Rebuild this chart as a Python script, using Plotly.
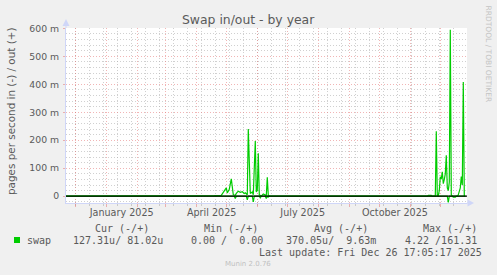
import plotly.graph_objects as go
import pandas as pd

# ---- data (values in milli-pages/s) ----
out_dates = ["2024-11-21", "2025-04-16", "2025-04-19", "2025-04-26", "2025-04-29",
             "2025-05-01", "2025-05-02", "2025-05-04", "2025-05-06", "2025-05-07",
             "2025-05-08", "2025-05-10", "2025-05-11", "2025-05-13", "2025-05-15",
             "2025-05-17", "2025-05-19", "2025-05-20", "2025-05-22", "2025-05-23",
             "2025-05-24", "2025-05-25", "2025-05-27", "2025-05-28", "2025-05-30",
             "2025-05-31", "2025-06-01", "2025-06-02", "2025-06-03", "2025-06-05",
             "2025-06-07", "2025-06-09", "2025-06-10", "2025-06-11", "2025-06-12",
             "2025-06-14", "2025-11-18", "2025-11-19", "2025-11-22", "2025-11-23",
             "2025-11-26", "2025-11-27", "2025-11-28", "2025-11-29", "2025-11-30",
             "2025-12-01", "2025-12-02", "2025-12-03", "2025-12-04", "2025-12-05",
             "2025-12-06", "2025-12-07", "2025-12-08", "2025-12-09", "2025-12-10",
             "2025-12-11", "2025-12-12", "2025-12-13", "2025-12-18", "2025-12-19",
             "2025-12-20", "2025-12-21", "2025-12-22", "2025-12-23", "2025-12-24",
             "2025-12-25", "2025-12-26"]
out_values = [0, 0, 2, 3, 20,
              30, 12, 25, 62, 30,
              5, 3, 10, 18, 14,
              16, 10, 12, 5, 240,
              60, 10, 15, 5, 197,
              15, 20, 153, 5, 0,
              8, 5, 2, 68, 2,
              0, 0, 3, 3, 0,
              0, 232, 2, 2, 20,
              69, 62, 87, 45, 60,
              80, 146, 30, 20, 50,
              595, 5, 0, 0, 5,
              15, 30, 70, 40, 408,
              0, 0]

in_dates = ["2024-11-21", "2025-05-09", "2025-05-10", "2025-05-11", "2025-05-21",
            "2025-05-22", "2025-05-23", "2025-05-27", "2025-05-28", "2025-05-29",
            "2025-06-03", "2025-06-04", "2025-06-05", "2025-06-09", "2025-06-10",
            "2025-06-11", "2025-06-12", "2025-06-13", "2025-12-08", "2025-12-09",
            "2025-12-10", "2025-12-13", "2025-12-14", "2025-12-16", "2025-12-17",
            "2025-12-26"]
in_values = [0, 0, -8, 0, 0,
             -13, 0, 0, -20, 0,
             0, -6, 0, 0, -8,
             0, -3, 0, 0, -22,
             0, 0, -3, -3, 0,
             0]

month_starts = [d.strftime("%Y-%m-%d") for d in pd.date_range("2024-12-01", "2025-12-01", freq="MS")]
biweekly = [d.strftime("%Y-%m-%d") for d in pd.date_range("2024-12-01", "2025-12-31", freq="14D")]
label_dates = ["2025-01-16 09:00", "2025-04-16 09:00", "2025-07-16 09:00", "2025-10-16 16:00"]
label_text = ["January 2025", "April 2025", "July 2025", "October 2025"]
y_ticks = [0, 100, 200, 300, 400, 500, 600]
y_ticktext = ["0", "100 m", "200 m", "300 m", "400 m", "500 m", "600 m"]
y_minor = [v for v in range(-20, 600, 20) if v % 100 != 0]

# legend table
legend_headers = ["Cur (-/+)", "Min (-/+)", "Avg (-/+)", "Max (-/+)"]
legend_values = ["127.31u/\u00a081.02u", "0.00\u00a0/\u00a0\u00a00.00",
                 "370.05u/\u00a0\u00a09.63m", "4.22\u00a0/161.31"]

# ---- layout geometry ----
W, H = 497, 275
L, R, T, B = 66, 30, 28, 72
PW, PH = W - L - R, H - T - B
X_RANGE = ["2024-11-21 17:00", "2025-12-27 17:00"]
Y_RANGE = [-24.3, 601]

def px(x):
    return (x - L) / PW

def py(y):
    return (H - B - y) / PH

GREEN = "#00CC00"
FONT_C = "#5a5a5a"
AXIS_C = "#CFD6F8"
MGRID = "rgba(230,120,120,0.55)"
GRID = "rgba(170,170,170,0.55)"

fig = go.Figure()
fig.add_trace(go.Scatter(x=out_dates, y=out_values, mode="lines",
                         line=dict(color=GREEN, width=1.2), showlegend=False,
                         hoverinfo="skip"))
fig.add_trace(go.Scatter(x=in_dates, y=in_values, mode="lines",
                         line=dict(color=GREEN, width=1.2), showlegend=False,
                         hoverinfo="skip"))
# invisible trace to activate xaxis2 for the month labels
fig.add_trace(go.Scatter(x=[X_RANGE[0]], y=[0], xaxis="x2", mode="markers",
                         marker=dict(opacity=0), showlegend=False, hoverinfo="skip"))

fig.update_layout(
    width=W, height=H,
    margin=dict(l=L, r=R, t=T, b=B),
    paper_bgcolor="#F0F0F0", plot_bgcolor="#FFFFFF",
    font=dict(family="DejaVu Sans", color=FONT_C),
    showlegend=False,
    xaxis=dict(type="date", range=X_RANGE, tickmode="array", tickvals=month_starts,
               showticklabels=False, showgrid=True, gridcolor=MGRID, griddash="1px,2px",
               gridwidth=1, ticks="outside", ticklen=3, tickcolor=MGRID,
               showline=True, linecolor=AXIS_C, linewidth=1, zeroline=False,
               minor=dict(tickmode="array", tickvals=biweekly, showgrid=True,
                          gridcolor=GRID, griddash="1px,2px", gridwidth=1,
                          ticks="outside", ticklen=2, tickcolor=GRID)),
    xaxis2=dict(type="date", range=X_RANGE, overlaying="x", anchor="y", side="bottom",
                tickmode="array", tickvals=label_dates, ticktext=label_text,
                showgrid=False, ticks="", showline=False, zeroline=False,
                tickfont=dict(size=9.6, color=FONT_C), ticklabelstandoff=2),
    yaxis=dict(range=Y_RANGE, tickmode="array", tickvals=y_ticks, ticktext=y_ticktext,
               tickfont=dict(size=9.3, color=FONT_C), showgrid=True, gridcolor=MGRID,
               griddash="1px,2px", gridwidth=1, zeroline=False, showline=True,
               linecolor=AXIS_C, linewidth=1, ticks="outside", ticklen=2,
               tickcolor=MGRID, ticklabelstandoff=2,
               minor=dict(tickmode="array", tickvals=y_minor, showgrid=True,
                          gridcolor=GRID, griddash="1px,2px", gridwidth=1)),
)

shapes = [
    # zero rule
    dict(type="line", xref="paper", yref="y", x0=0, x1=1, y0=0, y1=0,
         line=dict(color="#000000", width=1.2), layer="above"),
    # axis extensions and arrows
    dict(type="line", xref="paper", yref="paper", x0=0, x1=0, y0=1, y1=py(22),
         line=dict(color=AXIS_C, width=1)),
    dict(type="path", xref="paper", yref="paper",
         path=f"M {px(66)} {py(19)} L {px(62.5)} {py(26)} L {px(69.5)} {py(26)} Z",
         fillcolor=AXIS_C, line=dict(width=0)),
    dict(type="line", xref="paper", yref="paper", x0=1, x1=px(469), y0=0, y1=0,
         line=dict(color=AXIS_C, width=1)),
    dict(type="path", xref="paper", yref="paper",
         path=f"M {px(474)} {py(203)} L {px(467.5)} {py(199.5)} L {px(467.5)} {py(206.5)} Z",
         fillcolor=AXIS_C, line=dict(width=0)),
    # legend colour box
    dict(type="rect", xref="paper", yref="paper", x0=px(14), x1=px(20), y0=py(243), y1=py(237),
         fillcolor=GREEN, line=dict(width=0)),
]
fig.update_layout(shapes=shapes)

MONO = "DejaVu Sans Mono"
ann = []
def add_text(text, x, y, anchor="left", size=10, color=FONT_C, family=MONO, angle=0):
    ann.append(dict(text=text, xref="paper", yref="paper", x=px(x), y=py(y),
                    xanchor=anchor, yanchor="middle", showarrow=False, textangle=angle,
                    font=dict(family=family, size=size, color=color)))

add_text("Swap in/out - by year", 248, 19.5, anchor="center", size=12.4,
         family="DejaVu Sans", color=FONT_C)
add_text("pages per second in (-) / out (+)", 11.5, 111.5, anchor="center", size=10.4,
         family="DejaVu Sans", angle=-90)
add_text("RRDTOOL / TOBI OETIKER", 488, 53.5, anchor="center", size=7.5,
         family="DejaVu Sans", color="#C4C4C4", angle=90)

for txt, x in zip(legend_headers, [94.3, 203.7, 313.3, 422.7]):
    add_text(txt, x - 1.5, 228)
add_text("swap", 26.7 - 1.5, 240.5)
for txt, x in zip(legend_values, [72.3, 190.7, 285.7, 404]):
    add_text(txt, x - 1.5, 240.5)
add_text("Last update: Fri Dec 26 17:05:17 2025", 483.5, 252.5, anchor="right")
add_text("Munin 2.0.76", 248, 264, anchor="center", size=7, family="DejaVu Sans",
         color="#C0C0C0")

fig.update_layout(annotations=ann)
fig.write_html("out.html")
